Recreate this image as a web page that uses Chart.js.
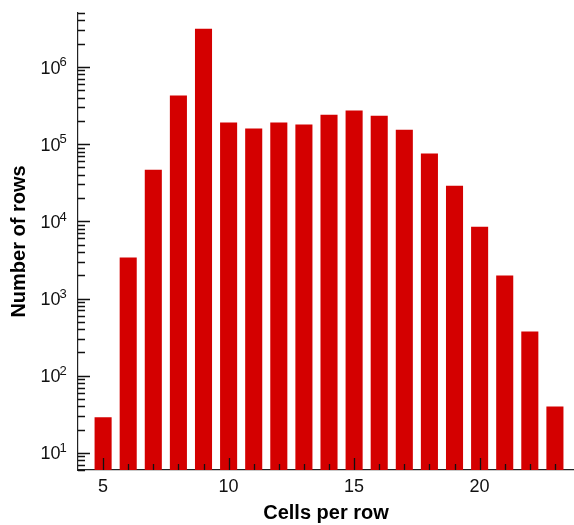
<!DOCTYPE html>
<html>
<head>
<meta charset="utf-8">
<script src="https://cdn.jsdelivr.net/npm/chart.js@4/dist/chart.umd.min.js"></script>
<style>
html,body{margin:0;padding:0;background:#fff;}
</style>
</head>
<body>
<canvas id="chart" width="574" height="525"></canvas>
<script>
// Data
const cellsPerRow=[5,6,7,8,9,10,11,12,13,14,15,16,17,18,19,20,21,22,23];
const numberOfRows=[29,3400,46700,428000,3130000,190000,159000,190000,179000,241000,272000,234000,154000,75800,29000,8530,1990,374,40];
const xTickValues=[5,10,15,20];
const yPowers=[1,2,3,4,5,6];

const FONT='"Liberation Sans", Arial, Helvetica, sans-serif';
const INK='#111';

// inward tick marks + 10^n labels
const axisTicks={
  id:'axisTicks',
  afterDatasetsDraw(chart){
    const {ctx,chartArea:a,scales:{x,y}}=chart;
    ctx.save();
    ctx.strokeStyle='#111'; ctx.lineWidth=1.3;
    ctx.beginPath();
    for(let v=Math.ceil(x.min)+1;v<=x.max;v++){
      const px=Math.round(x.getPixelForValue(v))+0.5;
      const len=v%5===0?12:6;
      ctx.moveTo(px,a.bottom); ctx.lineTo(px,a.bottom-len);
    }
    for(let p=0;p<=7;p++){
      for(let k=1;k<10;k++){
        const v=k*Math.pow(10,p);
        if(v<y.min||v>y.max) continue;
        const py=Math.round(y.getPixelForValue(v))+0.5;
        const len=k===1?12:7;
        ctx.moveTo(a.left,py); ctx.lineTo(a.left+len,py);
      }
    }
    ctx.stroke();

    ctx.fillStyle=INK; ctx.textBaseline='alphabetic';
    yPowers.forEach(p=>{
      const py=y.getPixelForValue(Math.pow(10,p));
      ctx.font='18px '+FONT; ctx.textAlign='right';
      ctx.fillText('10',60.5,py+6.6);
      ctx.font='13px '+FONT; ctx.textAlign='left';
      ctx.fillText(String(p),59.5,py-0.7);
    });
    ctx.restore();
  }
};

new Chart(document.getElementById('chart'),{
  type:'bar',
  data:{
    datasets:[{
      data:cellsPerRow.map((c,i)=>({x:c,y:numberOfRows[i]})),
      backgroundColor:'#d40000',
      borderWidth:0,
      barPercentage:0.68,
      categoryPercentage:1
    }]
  },
  options:{
    responsive:false,
    animation:false,
    devicePixelRatio:1,
    layout:{padding:{top:13,right:0,bottom:0,left:0}},
    plugins:{legend:{display:false},tooltip:{enabled:false}},
    scales:{
      x:{
        type:'linear',
        offset:false,
        min:4, max:23.76,
        afterBuildTicks:s=>{ s.ticks=xTickValues.map(v=>({value:v})); },
        afterFit:s=>{ s.height=55; },
        ticks:{font:{family:FONT,size:18},color:INK,padding:6},
        grid:{offset:false,drawOnChartArea:false,drawTicks:false},
        border:{display:true,color:'#222',width:1.2},
        title:{display:true,text:'Cells per row',font:{family:FONT,size:20,weight:'bold'},color:'#000',padding:{top:0,bottom:0}}
      },
      y:{
        type:'logarithmic',
        min:6, max:5e6,
        afterFit:s=>{ s.width=78; },
        ticks:{display:false},
        grid:{drawOnChartArea:false,drawTicks:false},
        border:{display:true,color:'#222',width:1.2},
        title:{display:true,text:'Number of rows',font:{family:FONT,size:20,weight:'bold'},color:'#000',padding:{top:7,bottom:0}}
      }
    }
  },
  plugins:[axisTicks]
});
</script>
</body>
</html>
